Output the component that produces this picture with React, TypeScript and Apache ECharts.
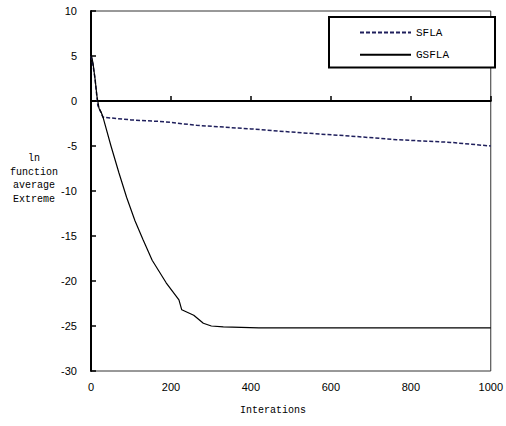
import React, { useEffect, useRef } from "react";
import * as echarts from "echarts";

const sflaX = [0, 5, 10, 17, 30, 100, 183, 264, 400, 516, 650, 765, 900, 1000];
const sflaY = [5.0, 4.0, 2.5, -0.5, -1.8, -2.1, -2.3, -2.7, -3.1, -3.5, -3.9, -4.3, -4.6, -5.0];

const gsflaX = [0, 5, 10, 15, 20, 25, 30, 50, 70, 89, 110, 130, 153, 188, 220, 227, 257, 281, 301, 331, 420, 600, 800, 1000];
const gsflaY = [5.3, 4.2, 2.5, 0.5, -0.8, -1.2, -1.8, -5.0, -8.0, -10.7, -13.3, -15.4, -17.7, -20.2, -22.1, -23.2, -23.8, -24.7, -25.0, -25.1, -25.2, -25.2, -25.2, -25.2];

const seriesNames = ["SFLA", "GSFLA"];
const yAxisTitle = "ln\nfunction\naverage\nExtreme";
const xAxisTitle = "Interations";

export default function App() {
  const ref = useRef<HTMLDivElement>(null);
  useEffect(() => {
    if (!ref.current) return;
    const chart = echarts.init(ref.current, null, { renderer: "svg" });
    const mono = "'Liberation Mono', 'DejaVu Sans Mono', monospace";
    const sans = "'Liberation Sans', Arial, sans-serif";
    chart.setOption({
      animation: false,
      backgroundColor: "#fff",
      grid: {
        left: 91,
        right: 10,
        top: 11,
        bottom: 55,
        show: true,
        borderColor: "#333",
        borderWidth: 1,
        backgroundColor: "transparent",
      },
      legend: {
        orient: "vertical",
        left: 329,
        top: 17,
        data: seriesNames,
        itemWidth: 51,
        itemHeight: 14,
        itemGap: 11,
        padding: [10, 46, 7, 30],
        borderColor: "#000",
        borderWidth: 2,
        backgroundColor: "#fff",
        itemStyle: { opacity: 0 },
        textStyle: { fontFamily: mono, fontSize: 11, color: "#000" },
      },
      xAxis: {
        type: "value",
        min: 0,
        max: 1000,
        interval: 200,
        axisLine: { show: true, lineStyle: { color: "#000", width: 2 } },
        axisTick: { show: true, inside: true, length: 5, lineStyle: { color: "#000", width: 1.5 } },
        splitLine: { show: false },
        axisLabel: {
          color: "#000",
          fontFamily: sans,
          fontSize: 11,
          margin: 10,
          showMaxLabel: true,
          formatter: (v: number) => String(v),
        },
      },
      yAxis: {
        type: "value",
        min: -30,
        max: 10,
        interval: 5,
        axisLine: { show: true, onZero: false, lineStyle: { color: "#000", width: 2 } },
        axisTick: { show: true, inside: true, length: 5, lineStyle: { color: "#000", width: 1.5 } },
        splitLine: { show: false },
        axisLabel: { color: "#000", fontFamily: sans, fontSize: 11, margin: 14 },
      },
      graphic: [
        {
          type: "text",
          x: 34,
          y: 152,
          style: {
            text: yAxisTitle,
            fontFamily: mono,
            fontSize: 10,
            lineHeight: 13.5,
            fill: "#000",
            align: "center",
            verticalAlign: "top",
          },
        },
        {
          type: "text",
          x: 240,
          y: 405,
          style: { text: xAxisTitle, fontFamily: mono, fontSize: 10, fill: "#000" },
        },
      ],
      series: [
        {
          name: seriesNames[0],
          type: "line",
          symbol: "none",
          data: sflaX.map((x, i) => [x, sflaY[i]]),
          lineStyle: { color: "#1f1f5c", width: 1.5, type: [4, 2] },
          itemStyle: { color: "#1f1f5c" },
        },
        {
          name: seriesNames[1],
          type: "line",
          symbol: "none",
          data: gsflaX.map((x, i) => [x, gsflaY[i]]),
          lineStyle: { color: "#000", width: 1.2, type: "solid" },
          itemStyle: { color: "#000" },
        },
      ],
    });
    return () => chart.dispose();
  }, []);
  return <div ref={ref} style={{ width: 506, height: 426, position: "absolute", left: 0, top: 0 }} />;
}
